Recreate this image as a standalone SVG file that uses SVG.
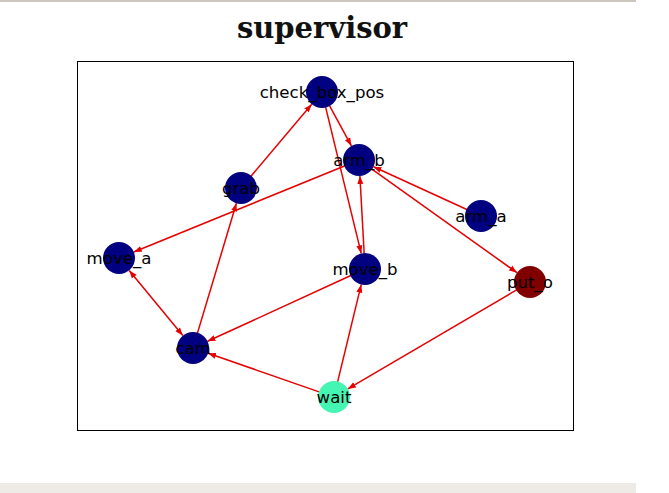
<svg xmlns="http://www.w3.org/2000/svg" width="669" height="493" viewBox="0 0 669 493">
<style>
.edge{stroke:#e60000;stroke-width:1.5;fill:none;marker-end:url(#ah)}
.both{marker-start:url(#ah)}
.node circle{stroke:none}
.lbl{font-family:"DejaVu Sans",sans-serif;font-size:16.6px;fill:#000;text-anchor:middle}
</style>
<defs>
<marker id="ah" markerUnits="userSpaceOnUse" markerWidth="9" markerHeight="7" refX="8" refY="3.5" orient="auto-start-reverse">
<path d="M0,0.5 L8,3.5 L0,6.5 z" fill="#e60000"/>
</marker>
</defs>
<rect x="0" y="0" width="669" height="493" fill="#fff"/>
<rect x="0" y="0" width="636" height="2" fill="#cdc6be"/>
<rect x="0" y="483" width="636" height="10" fill="#eeebe6"/>
<text x="322" y="38" font-family="'DejaVu Serif',serif" font-weight="bold" font-size="29" text-anchor="middle" fill="#111">supervisor</text>
<rect x="77.5" y="61.5" width="496" height="369" fill="#fff" stroke="#000" stroke-width="1"/>
<g id="connectors">
<line class="edge" x1="250.7" y1="176.5" x2="311.7" y2="104.2"/>
<line class="edge" x1="329.2" y1="105.2" x2="351.4" y2="145.9"/>
<line class="edge" x1="325.5" y1="106.6" x2="361.2" y2="253.4"/>
<line class="edge" x1="364.2" y1="254" x2="359.9" y2="176"/>
<line class="edge" x1="345.1" y1="165.7" x2="133.8" y2="252"/>
<line class="edge" x1="467.4" y1="209.7" x2="373.5" y2="166.7"/>
<line class="edge" x1="371.2" y1="168.7" x2="517" y2="272.7"/>
<line class="edge" x1="517.1" y1="289.6" x2="347.8" y2="388.9"/>
<line class="edge" x1="337.5" y1="382.4" x2="361.2" y2="284.6"/>
<line class="edge" x1="319.8" y1="392.1" x2="208.1" y2="353.2"/>
<line class="edge" x1="351.4" y1="275.3" x2="207.5" y2="341.3"/>
<line class="edge" x1="197.3" y1="333.6" x2="236.4" y2="203.3"/>
<line class="edge both" x1="129.2" y1="270.4" x2="182.8" y2="335.6"/>
</g>
<g id="check_box_pos" class="node"><circle cx="322" cy="92" r="16" fill="#000080"/><text class="lbl" x="322" y="98">check_box_pos</text></g>
<g id="arm_b" class="node"><circle cx="359" cy="160" r="16" fill="#000080"/><text class="lbl" x="359" y="166">arm_b</text></g>
<g id="grab" class="node"><circle cx="241" cy="188" r="16" fill="#000080"/><text class="lbl" x="241" y="194">grab</text></g>
<g id="arm_a" class="node"><circle cx="481" cy="216" r="16" fill="#000080"/><text class="lbl" x="481" y="222">arm_a</text></g>
<g id="move_a" class="node"><circle cx="119" cy="258" r="16" fill="#000080"/><text class="lbl" x="119" y="264">move_a</text></g>
<g id="move_b" class="node"><circle cx="365" cy="269" r="16" fill="#000080"/><text class="lbl" x="365" y="275">move_b</text></g>
<g id="put_o" class="node"><circle cx="530" cy="282" r="16" fill="#800000"/><text class="lbl" x="530" y="288">put_o</text></g>
<g id="cam" class="node"><circle cx="193" cy="348" r="16" fill="#000080"/><text class="lbl" x="193" y="354">cam</text></g>
<g id="wait" class="node"><circle cx="334" cy="397" r="16" fill="#44f5b4"/><text class="lbl" x="334" y="403">wait</text></g>
</svg>
